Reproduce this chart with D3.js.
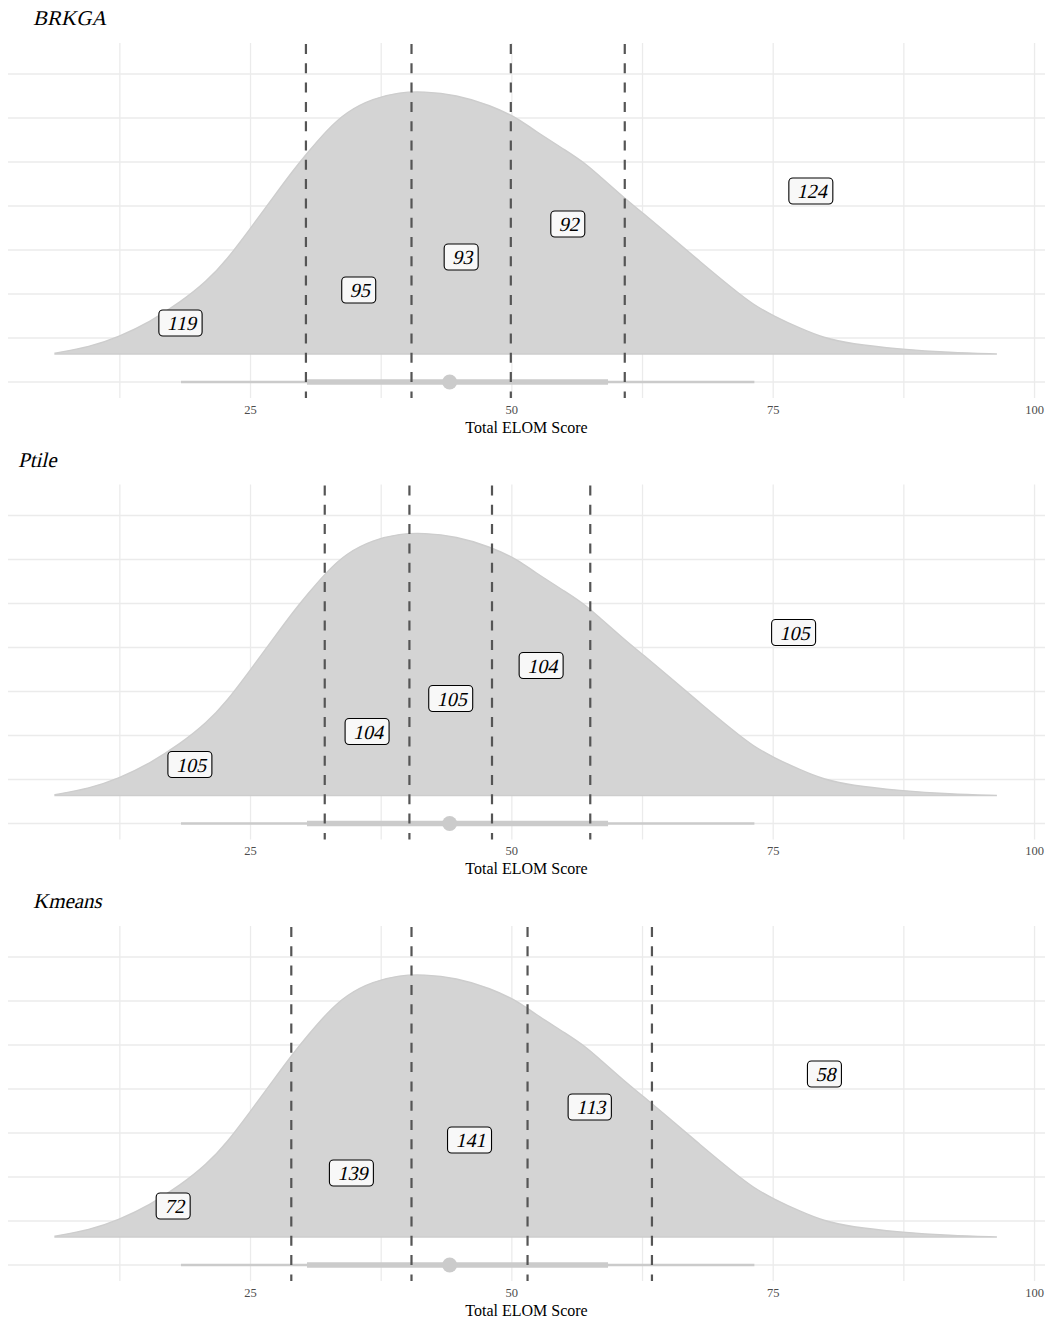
<!DOCTYPE html>
<html>
<head>
<meta charset="utf-8">
<script src="https://cdn.jsdelivr.net/npm/d3@7"></script>
<style>
body {
  margin: 0;
  background: #fff;
}
text {
  font-family: "Liberation Serif", "Times New Roman", serif;
}
</style>
</head>
<body>
<div id="chart"></div>
<script>

// clustering methods, one panel each
var methods = ["BRKGA", "Ptile", "Kmeans"];

// cluster boundaries (dashed lines) per method
var cutPoints = [
  [30.3, 40.4, 49.9, 60.8],
  [32.1, 40.2, 48.1, 57.5],
  [28.9, 40.4, 51.5, 63.4]
];

// number of children in each of the five groups
var groupCounts = [
  [119, 95, 93, 92, 124],
  [105, 104, 105, 104, 105],
  [72, 139, 141, 113, 58]
];

// height (y units) at which each group label sits
var labelLevels = [1.34, 2.09, 2.84, 3.59, 4.34];

// density of total ELOM score
var densityScore  = [6.3, 9.6, 12.4, 15.4, 18.3, 20.8, 22.7, 25.0, 27.2, 29.1, 30.4, 32.3, 34.2, 36.7, 39.3, 41.5, 44.7, 47.9,
                     50.8, 52.0, 55.3, 57.2, 58.4, 60.8, 62.6, 64.8, 68.0, 71.2, 73.1, 75.0, 77.6, 79.8, 82.4, 87.1, 91.9, 96.4];
var densityHeight = [0.02, 0.16, 0.39, 0.73, 1.18, 1.65, 2.13, 2.86, 3.57, 4.18, 4.56, 5.09, 5.51, 5.81, 5.95, 5.97, 5.89, 5.66,
                     5.33, 5.10, 4.61, 4.30, 4.04, 3.54, 3.19, 2.75, 2.10, 1.47, 1.12, 0.87, 0.58, 0.37, 0.23, 0.11, 0.03, 0.0];

// point interval under the slab
var intervalOuter = [18.35, 73.2];
var intervalInner = [30.4, 59.2];
var medianScore = 44.05;

var xTicks = [25, 50, 75, 100];
var xMinor = [12.5, 37.5, 62.5, 87.5];
var yGrid = [0, 1, 2, 3, 4, 5, 6, 7];
var slabBase = 0.636;

// layout
var width = 1052, height = 1318,
    panelStep = 441.5,
    plotTop = 43, plotBottom = 398,
    titleIndent = [31, 16, 31];

var x = d3.scaleLinear().domain([1.8, 101.0]).range([8, 1045]);
var y = d3.scaleLinear().domain([-0.364, 7.705]).range([plotBottom, plotTop]);

var svg = d3.select("#chart").append("svg")
  .attr("width", width)
  .attr("height", height);

var density = densityScore.map(function(s, i) { return { s: s, h: densityHeight[i] }; });

var slab = d3.area()
  .x(function(d) { return x(d.s); })
  .y0(y(slabBase))
  .y1(function(d) { return y(slabBase + d.h); })
  .curve(d3.curveBasis);

// serif italic drawn as slanted upright serif
function italic(sel, px, py) {
  return sel.attr("transform", "translate(" + px + "," + py + ") skewX(-13)");
}

methods.forEach(function(method, p) {

  var g = svg.append("g").attr("transform", "translate(0," + (p * panelStep) + ")");

  // grid
  g.append("g").selectAll("line")
    .data(yGrid)
    .enter().append("line")
    .attr("x1", x.range()[0]).attr("x2", x.range()[1])
    .attr("y1", function(d) { return y(d); }).attr("y2", function(d) { return y(d); })
    .attr("stroke", "#ebebeb").attr("stroke-width", 1.3);

  g.append("g").selectAll("line")
    .data(xTicks.concat(xMinor))
    .enter().append("line")
    .attr("x1", function(d) { return x(d); }).attr("x2", function(d) { return x(d); })
    .attr("y1", plotTop).attr("y2", plotBottom)
    .attr("stroke", "#ebebeb").attr("stroke-width", 1.3);

  // slab
  g.append("path")
    .datum(density)
    .attr("d", slab)
    .attr("fill", "#d4d4d4")
    .attr("stroke", "#cdcdcd")
    .attr("stroke-width", 1.4);

  // point interval
  g.append("line")
    .attr("x1", x(intervalOuter[0])).attr("x2", x(intervalOuter[1]))
    .attr("y1", y(0)).attr("y2", y(0))
    .attr("stroke", "#cbcbcb").attr("stroke-width", 2.4);
  g.append("line")
    .attr("x1", x(intervalInner[0])).attr("x2", x(intervalInner[1]))
    .attr("y1", y(0)).attr("y2", y(0))
    .attr("stroke", "#cbcbcb").attr("stroke-width", 5.5);
  g.append("circle")
    .attr("cx", x(medianScore)).attr("cy", y(0))
    .attr("r", 7.5)
    .attr("fill", "#cbcbcb");

  // cluster boundaries
  g.append("g").selectAll("line")
    .data(cutPoints[p])
    .enter().append("line")
    .attr("x1", function(d) { return x(d); }).attr("x2", function(d) { return x(d); })
    .attr("y1", plotTop + 1).attr("y2", plotBottom)
    .attr("stroke", "#555555")
    .attr("stroke-width", 2.2)
    .attr("stroke-dasharray", "10 9.3");

  // group labels at midpoint of each group
  var edges = [densityScore[0]].concat(cutPoints[p], [densityScore[densityScore.length - 1]]);
  var labels = groupCounts[p].map(function(n, i) {
    return { n: n, mid: (edges[i] + edges[i + 1]) / 2, level: labelLevels[i] };
  });

  var lab = g.append("g").selectAll("g")
    .data(labels)
    .enter().append("g")
    .attr("transform", function(d) { return "translate(" + x(d.mid) + "," + y(d.level) + ")"; });

  lab.append("rect")
    .attr("fill", "#f8f8f8")
    .attr("stroke", "#000")
    .attr("stroke-width", 1.1)
    .attr("rx", 4).attr("ry", 4);

  var txt = lab.append("text")
    .attr("text-anchor", "middle")
    .attr("transform", "translate(1,7) skewX(-13)")
    .attr("font-size", "20px")
    .attr("fill", "#000")
    .text(function(d) { return d.n; });

  txt.each(function(d) {
    var w = this.getComputedTextLength() + 14;
    d3.select(this.parentNode).select("rect")
      .attr("x", -w / 2).attr("y", -13)
      .attr("width", w).attr("height", 26);
  });

  // x axis tick labels
  g.append("g").selectAll("text")
    .data(xTicks)
    .enter().append("text")
    .attr("x", function(d) { return x(d); })
    .attr("y", 413.5)
    .attr("text-anchor", "middle")
    .attr("font-size", "12.5px")
    .attr("fill", "#4d4d4d")
    .text(function(d) { return d; });

  // axis title
  g.append("text")
    .attr("x", (x.range()[0] + x.range()[1]) / 2)
    .attr("y", 432.5)
    .attr("text-anchor", "middle")
    .attr("font-size", "16px")
    .attr("fill", "#000")
    .text("Total ELOM Score");

  // panel title
  g.append("text")
    .call(italic, titleIndent[p] + 2, 25)
    .attr("font-size", "21px")
    .attr("fill", "#000")
    .text(method);
});

</script>
</body>
</html>
